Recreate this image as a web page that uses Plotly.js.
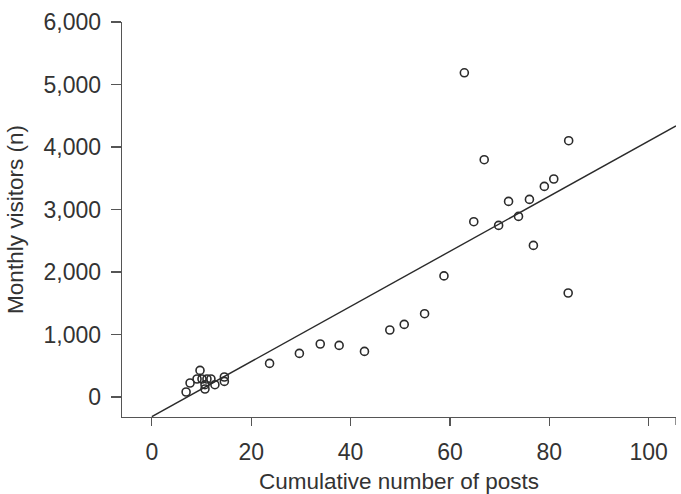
<!DOCTYPE html>
<html>
<head>
<meta charset="utf-8">
<script src="https://cdn.plot.ly/plotly-3.0.1.min.js"></script>
<style>
  html, body { margin: 0; padding: 0; background: #fff; }
  #chart { width: 681px; height: 494px; }
</style>
</head>
<body>
<div id="chart"></div>
<script>
// Cumulative posts vs. monthly visitors, one entry per observation
const posts = [
  6.9, 7.7, 9.1, 9.7, 10.1, 11.1, 11.9, 10.7, 10.7, 12.7, 14.6, 14.6,
  23.7, 29.7, 33.9, 37.7, 42.8, 47.9, 50.8, 54.9, 58.8,
  62.9, 64.8, 66.9, 69.8, 71.8, 73.8, 76.0, 76.8, 79.0, 80.9, 83.9, 83.8
];
const visitors = [
  80, 224, 288, 426, 288, 288, 288, 197, 128, 197, 320, 250,
  538, 698, 848, 826, 730, 1072, 1162, 1333, 1938,
  5187, 2805, 3797, 2746, 3130, 2890, 3162, 2426, 3370, 3488, 4101, 1664
];

// Linear fit: visitors = intercept + slope * posts
const fitIntercept = -315;
const fitSlope = 44.1;

const xRange = [-6, 105.5];
const yRange = [-320, 6000];

const yTicks = [0, 1000, 2000, 3000, 4000, 5000, 6000];
const yTickText = ['0', '1,000', '2,000', '3,000', '4,000', '5,000', '6,000'];
const xTicks = [0, 20, 40, 60, 80, 100];

const fitX = [0, xRange[1]];
const fitY = fitX.map(x => fitIntercept + fitSlope * x);

const ink = '#2b2b2b';
const axisColor = '#555555';
const textColor = '#333333';
const font = 'Liberation Sans, Arial, sans-serif';

const traces = [
  {
    x: fitX, y: fitY, type: 'scatter', mode: 'lines',
    line: { color: ink, width: 1.4 },
    hoverinfo: 'skip', showlegend: false
  },
  {
    x: posts, y: visitors, type: 'scatter', mode: 'markers',
    marker: { symbol: 'circle-open', size: 8, color: ink, line: { width: 1.6, color: ink } },
    showlegend: false
  }
];

const layout = {
  width: 681, height: 494,
  margin: { l: 122, r: 5, t: 22, b: 77 },
  paper_bgcolor: '#fff', plot_bgcolor: '#fff',
  font: { family: font, color: textColor, size: 22 },
  xaxis: {
    range: xRange, tickvals: xTicks, ticktext: xTicks.map(String),
    showgrid: false, zeroline: false,
    showline: true, linecolor: axisColor, linewidth: 1.3,
    ticks: 'outside', ticklen: 8, tickwidth: 1.3, tickcolor: axisColor,
    ticklabelstandoff: 6,
    tickfont: { size: 23, color: textColor },
    title: { text: 'Cumulative number of posts', font: { size: 22.5, color: textColor }, standoff: 23 }
  },
  yaxis: {
    range: yRange, tickvals: yTicks, ticktext: yTickText,
    showgrid: false, zeroline: false,
    showline: true, linecolor: axisColor, linewidth: 1.3,
    ticks: 'outside', ticklen: 10, tickwidth: 1.3, tickcolor: axisColor,
    ticklabelstandoff: 5,
    tickfont: { size: 23, color: textColor },
    title: { text: 'Monthly visitors (n)', font: { size: 22.5, color: textColor }, standoff: 13 }
  },
  shapes: [
    // closing tick at the right end of the x axis
    { type: 'line', xref: 'x', yref: 'paper', x0: xRange[1], x1: xRange[1], y0: 0, y1: -0.02,
      line: { color: axisColor, width: 1.3 } }
  ]
};

Plotly.newPlot('chart', traces, layout, { displayModeBar: false, staticPlot: true });
</script>
</body>
</html>
